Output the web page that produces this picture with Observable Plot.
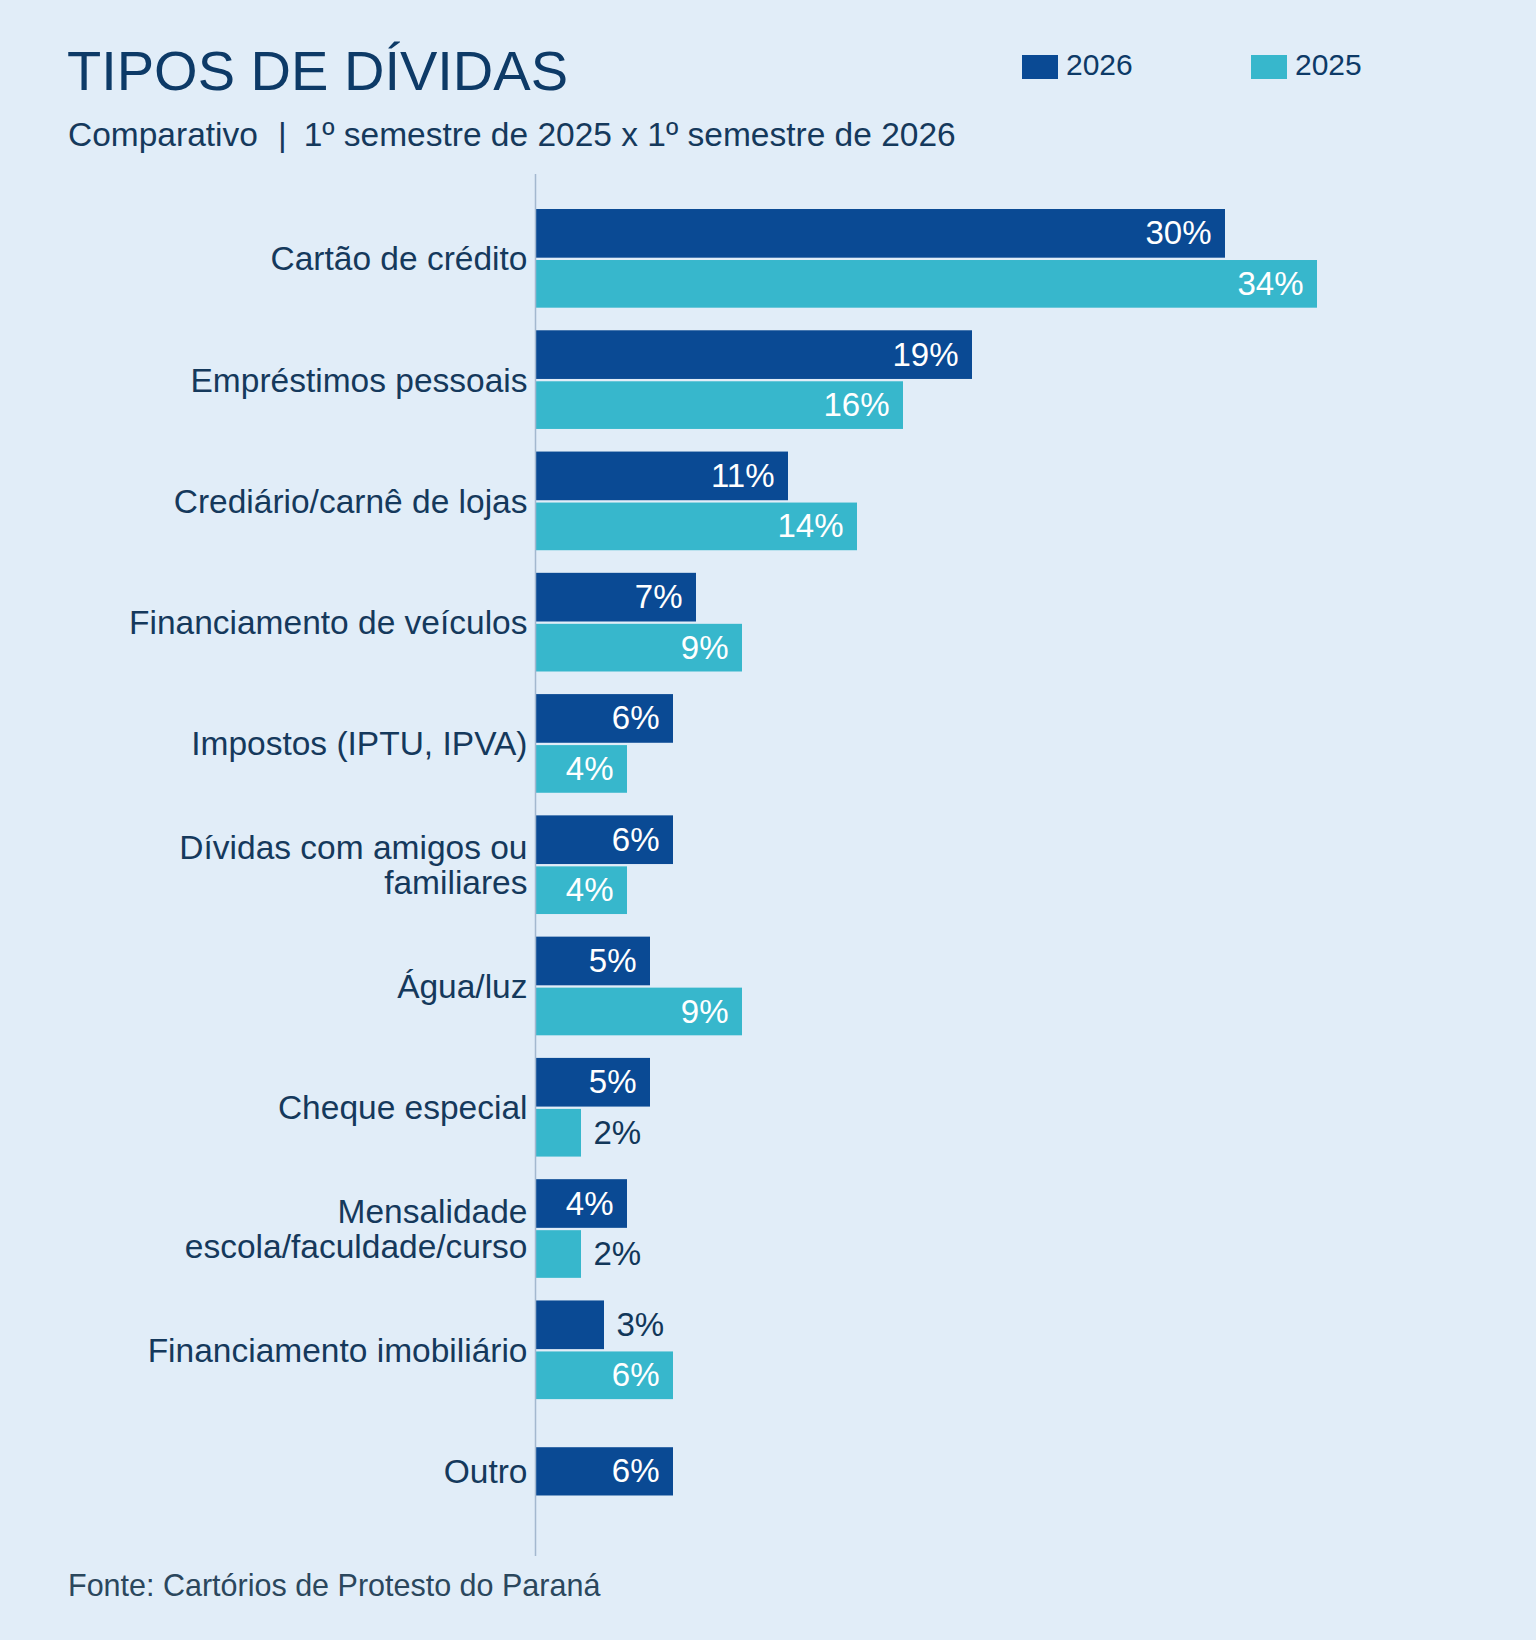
<!DOCTYPE html>
<html lang="pt-BR">
<head>
<meta charset="utf-8">
<script src="https://cdn.jsdelivr.net/npm/d3@7"></script>
<script src="https://cdn.jsdelivr.net/npm/@observablehq/plot@0.6"></script>
<style>
  html, body { margin: 0; padding: 0; background: #e1edf8; }
  #page { position: relative; width: 1536px; height: 1640px; font-family: 'Liberation Sans', Arial, sans-serif; overflow: hidden; }
  #chart { position: absolute; left: 0; top: 0; }
  .abs { position: absolute; white-space: nowrap; }
  #title { left: 67px; top: 43px; font-size: 56px; line-height: 56px; color: #0d3a67; }
  #subtitle { left: 68px; top: 118px; font-size: 33.5px; line-height: 34px; color: #15395c; }
  #subtitle .sep { display: inline-block; margin: 0 17px 0 20px; }
  #footer { left: 68px; top: 1570px; font-size: 30.5px; line-height: 30px; color: #2b475d; }
  .swatch { position: absolute; width: 36px; height: 24px; top: 55px; }
  .legtext { position: absolute; top: 50px; font-size: 30px; line-height: 30px; color: #0d3a67; }
</style>
</head>
<body>
<div id="page">
  <div id="chart"></div>
  <div id="title" class="abs">TIPOS DE DÍVIDAS</div>
  <div id="subtitle" class="abs">Comparativo<span class="sep">|</span>1º semestre de 2025 x 1º semestre de 2026</div>
  <div id="legend"></div>
  <div id="footer" class="abs">Fonte: Cartórios de Protesto do Paraná</div>
</div>
<script>
// ---- data ----
const categories = [
  "Cartão de crédito",
  "Empréstimos pessoais",
  "Crediário/carnê de lojas",
  "Financiamento de veículos",
  "Impostos (IPTU, IPVA)",
  "Dívidas com amigos ou\nfamiliares",
  "Água/luz",
  "Cheque especial",
  "Mensalidade\nescola/faculdade/curso",
  "Financiamento imobiliário",
  "Outro"
];
const values2026 = [30, 19, 11, 7, 6, 6, 5, 5, 4, 3, 6];
const values2025 = [34, 16, 14, 9, 4, 4, 9, 2, 2, 6, null];
const years = ["2026", "2025"];
const yearColors = ["#0a4a94", "#37b7cc"];

// ---- build rows ----
const rows = [];
categories.forEach((c, i) => {
  const paired = values2025[i] != null;
  rows.push({category: c, year: "2026", value: values2026[i], paired});
  if (paired) rows.push({category: c, year: "2025", value: values2025[i], paired});
});
const topRows = rows.filter(d => d.year === "2026" && d.paired);
const bottomRows = rows.filter(d => d.year === "2025");
const soloRows = rows.filter(d => !d.paired);

const fmt = d => d.value + "%";
const FONT = "'Liberation Sans', Arial, sans-serif";

function valueLabels(data, dy) {
  return [
    Plot.text(data.filter(d => d.value >= 4), {
      x: "value", y: "category", text: fmt, dy,
      textAnchor: "end", dx: -14, fill: "#ffffff", fontSize: 33
    }),
    Plot.text(data.filter(d => d.value < 4), {
      x: "value", y: "category", text: fmt, dy,
      textAnchor: "start", dx: 12, fill: "#12375a", fontSize: 33
    })
  ];
}

const chart = Plot.plot({
  width: 1536,
  height: 1640,
  marginLeft: 535,
  marginRight: 81,
  marginTop: 174,
  marginBottom: 84,
  x: {domain: [0, 40], axis: null},
  y: {domain: categories, paddingInner: 0, paddingOuter: 0.198, round: false, axis: null},
  color: {domain: years, range: yearColors},
  style: {background: "transparent", fontFamily: FONT, overflow: "visible"},
  marks: [
    Plot.barX(topRows, {x: "value", y: "category", fill: "year", insetTop: 11, insetBottom: 61.6}),
    Plot.barX(bottomRows, {x: "value", y: "category", fill: "year", insetTop: 62, insetBottom: 11.6}),
    Plot.barX(soloRows, {x: "value", y: "category", fill: "year", insetTop: 36.5, insetBottom: 36.5}),
    Plot.ruleX([0], {stroke: "#a3b8cf", strokeWidth: 1.5}),
    ...valueLabels(topRows, -25.3),
    ...valueLabels(bottomRows, 25.2),
    ...valueLabels(soloRows, 0),
    Plot.text(categories, {
      y: d => d, frameAnchor: "left", textAnchor: "end", dx: -8,
      fontSize: 33.5, lineHeight: 1.05, fill: "#15395c"
    })
  ]
});
document.getElementById("chart").appendChild(chart);

// ---- legend from data ----
const legend = document.getElementById("legend");
const legendX = [1022, 1251];
years.forEach((y, i) => {
  const sw = document.createElement("div");
  sw.className = "swatch";
  sw.style.left = legendX[i] + "px";
  sw.style.background = yearColors[i];
  legend.appendChild(sw);
  const t = document.createElement("div");
  t.className = "legtext abs";
  t.style.left = (legendX[i] + 44) + "px";
  t.textContent = y;
  legend.appendChild(t);
});
</script>
</body>
</html>
